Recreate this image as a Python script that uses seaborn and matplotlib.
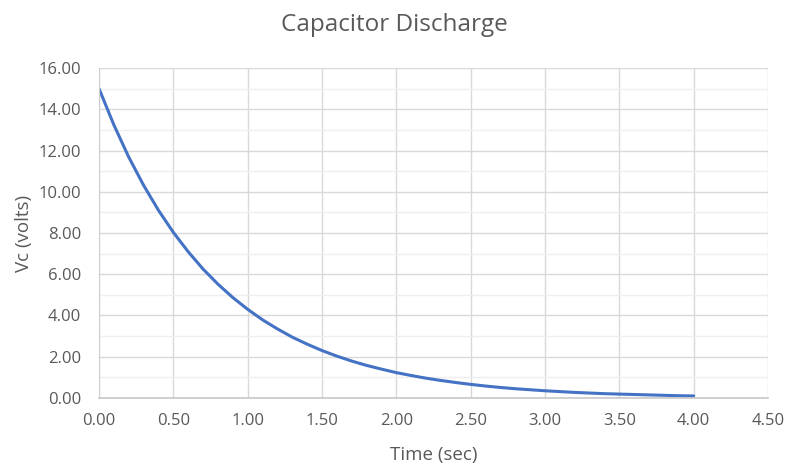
import matplotlib
matplotlib.use("Agg")
import matplotlib.pyplot as plt
import seaborn as sns
import pandas as pd
from matplotlib.ticker import MultipleLocator, FormatStrFormatter

time_sec = [0.0, 0.1, 0.2, 0.3, 0.4, 0.5, 0.6, 0.7, 0.8, 0.9, 1.0,
            1.1, 1.2, 1.3, 1.4, 1.5, 1.6, 1.7, 1.8, 1.9, 2.0,
            2.1, 2.2, 2.3, 2.4, 2.5, 2.6, 2.7, 2.8, 2.9, 3.0,
            3.1, 3.2, 3.3, 3.4, 3.5, 3.6, 3.7, 3.8, 3.9, 4.0]
vc_volts = [15.00, 13.24, 11.68, 10.31, 9.10, 8.03, 7.09, 6.25, 5.52, 4.87, 4.30,
            3.79, 3.35, 2.95, 2.61, 2.30, 2.03, 1.79, 1.58, 1.40, 1.23,
            1.09, 0.96, 0.85, 0.75, 0.66, 0.58, 0.51, 0.45, 0.40, 0.35,
            0.31, 0.27, 0.24, 0.21, 0.19, 0.17, 0.15, 0.13, 0.11, 0.10]

df = pd.DataFrame({"Time (sec)": time_sec, "Vc (volts)": vc_volts})

sns.set_style("white")
plt.rcParams['font.family'] = ['Open Sans', 'DejaVu Sans']

fig = plt.figure(figsize=(7.89, 4.63), dpi=100)
ax = fig.add_axes([0.1255, 0.1404, 0.8479, 0.7127])

sns.lineplot(data=df, x="Time (sec)", y="Vc (volts)", ax=ax,
             color="#4472C4", linewidth=2.2)

ax.set_xlim(0, 4.5)
ax.set_ylim(0, 16)
ax.xaxis.set_major_locator(MultipleLocator(0.5))
ax.yaxis.set_major_locator(MultipleLocator(2))
ax.yaxis.set_minor_locator(MultipleLocator(1))
ax.xaxis.set_major_formatter(FormatStrFormatter('%.2f'))
ax.yaxis.set_major_formatter(FormatStrFormatter('%.2f'))

ax.grid(True, which='major', color='#d9d9d9', linewidth=1.0)
ax.grid(True, which='minor', axis='y', color='#efefef', linewidth=1.0)
ax.set_axisbelow(True)

for s in ['top', 'right']:
    ax.spines[s].set_visible(False)
ax.spines['left'].set_color('#d0d0d0')
ax.spines['bottom'].set_color('#c8c8c8')
ax.spines['bottom'].set_linewidth(1.2)

ax.tick_params(axis='both', which='both', length=0, labelsize=12,
               labelcolor='#595959')
ax.tick_params(axis='x', pad=11)
ax.tick_params(axis='y', pad=13)
ax.set_xlabel("Time (sec)", fontsize=13.5, color='#595959', labelpad=12)
ax.set_ylabel("Vc (volts)", fontsize=13.5, color='#595959', labelpad=4)
fig.text(0.5, 1 - 25 / 463, "Capacitor Discharge", fontsize=17.5,
         color='#595959', ha='center', va='center')

fig.savefig("out.png", dpi=100, facecolor='white')
